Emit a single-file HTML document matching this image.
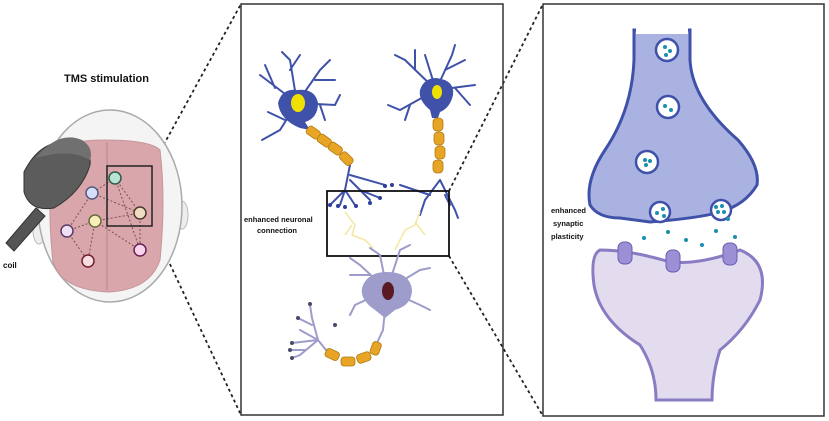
<!DOCTYPE html>
<html><head><meta charset="utf-8"><style>
html,body{margin:0;padding:0;background:#fff;}
svg{display:block;}
text{font-family:"Liberation Sans",sans-serif;font-weight:bold;fill:#111;}
</style></head><body>
<svg width="829" height="421" viewBox="0 0 829 421" xmlns="http://www.w3.org/2000/svg">
<g stroke="#222" stroke-width="1.8" stroke-dasharray="3,3" fill="none">
<line x1="152" y1="166" x2="241" y2="4"/>
<line x1="152" y1="226" x2="241" y2="415"/>
<line x1="449" y1="191" x2="543" y2="4"/>
<line x1="449" y1="256" x2="543" y2="416"/>
</g>
<rect x="241" y="4" width="262" height="411" fill="none" stroke="#333" stroke-width="1.5"/>
<rect x="543" y="4" width="281" height="412" fill="none" stroke="#333" stroke-width="1.5"/>

<text x="64" y="82" font-size="11">TMS stimulation</text>
<text x="3" y="268" font-size="8">coil</text>
<path d="M100 115 Q110 108 118 115 L120 122 Z" fill="#f2f2f2" stroke="#bbb"/>
<ellipse cx="39" cy="230" rx="6" ry="14" fill="#eee" stroke="#bbb"/>
<ellipse cx="182" cy="215" rx="6" ry="14" fill="#eee" stroke="#bbb"/>
<ellipse cx="110" cy="206" rx="72" ry="96" fill="#f4f4f4" stroke="#aaa" stroke-width="1.5"/>
<path d="M55 150 Q70 140 105 140 Q150 140 160 150 Q166 200 160 260 Q150 290 108 292 Q62 290 53 262 Q46 200 55 150 Z" fill="#d9a7ab" stroke="#c4969a"/>
<line x1="107" y1="142" x2="107" y2="290" stroke="#b58589" stroke-width="1"/>
<g stroke="#7b5050" stroke-width="1" stroke-dasharray="2,2" fill="none">
<line x1="115" y1="178" x2="92" y2="193"/><line x1="115" y1="178" x2="140" y2="213"/><line x1="115" y1="178" x2="140" y2="250"/>
<line x1="92" y1="193" x2="67" y2="231"/><line x1="92" y1="193" x2="140" y2="213"/>
<line x1="95" y1="221" x2="67" y2="231"/><line x1="95" y1="221" x2="88" y2="261"/><line x1="95" y1="221" x2="140" y2="213"/><line x1="95" y1="221" x2="140" y2="250"/>
<line x1="67" y1="231" x2="88" y2="261"/><line x1="140" y1="213" x2="140" y2="250"/>
</g>
<circle cx="115" cy="178" r="6" fill="#b9e3d5" stroke="#2d5b4a" stroke-width="1.5"/>
<circle cx="92" cy="193" r="6" fill="#d7defa" stroke="#555a80" stroke-width="1.5"/>
<circle cx="140" cy="213" r="6" fill="#efdcc2" stroke="#4a3a2a" stroke-width="1.5"/>
<circle cx="95" cy="221" r="6" fill="#f5f0b8" stroke="#6a6a40" stroke-width="1.5"/>
<circle cx="67" cy="231" r="6" fill="#efe0f5" stroke="#5a3a6a" stroke-width="1.5"/>
<circle cx="88" cy="261" r="6" fill="#f5dde0" stroke="#702030" stroke-width="1.5"/>
<circle cx="140" cy="250" r="6" fill="#f8d5ec" stroke="#6a2050" stroke-width="1.5"/>
<rect x="107" y="166" width="45" height="60" fill="none" stroke="#222" stroke-width="1.5"/>
<path d="M6 243 L36 208 L45 216 L14 251 Z" fill="#555" stroke="#333"/>
<path d="M24 172 Q40 140 68 142 Q92 148 90 165 Q82 192 54 208 Q30 212 24 192 Z" fill="#5c5c5c" stroke="#333"/>
<path d="M36 158 Q58 130 82 140 Q94 148 90 160 Q70 148 36 158 Z" fill="#707070"/>

<g stroke="#3f51a8" stroke-width="2" fill="none" stroke-linecap="round">
<path d="M297 103 L260 75 M275 88 L265 65 M297 103 L280 130 L262 140 M285 120 L268 112 M297 103 L320 70 L330 60 M315 80 L335 80 M297 103 L335 105 L340 95 M320 105 L325 120 M297 103 L290 60 L282 52 M290 70 L300 55"/>
<path d="M436 90 L405 60 L395 55 M415 70 L415 50 M436 90 L452 55 L455 45 M445 70 L465 60 M436 90 L475 85 M455 88 L470 105 M436 90 L400 110 L388 105 M410 105 L405 120 M436 90 L425 55"/>
<path d="M350 165 L345 190 L330 205 M345 190 L340 205 M345 190 L355 205 M350 180 L370 200 M360 190 L380 198 M350 175 L385 185"/>
<path d="M440 180 L425 200 L420 215 M430 195 L400 185 M440 180 L455 210 L458 218 M445 195 L450 205"/>
</g>
<path d="M297 90 Q315 88 318 103 Q318 118 305 122 L310 130 L300 128 Q280 120 278 103 Q282 88 297 90 Z" fill="#3f51a8"/>
<ellipse cx="298" cy="103" rx="7" ry="9" fill="#f0e000"/>
<path d="M436 78 Q455 80 453 95 Q450 108 440 112 L438 118 L432 118 L430 110 Q418 100 420 90 Q424 78 436 78 Z" fill="#3f51a8"/>
<ellipse cx="437" cy="92" rx="5" ry="7" fill="#f0e000"/>
<g fill="#e8a425" stroke="#b07a10" stroke-width="0.8">
<rect x="306" y="128" width="14" height="9" rx="3" transform="rotate(35 313 133)"/>
<rect x="317" y="136" width="14" height="9" rx="3" transform="rotate(35 324 141)"/>
<rect x="328" y="144" width="14" height="9" rx="3" transform="rotate(35 335 149)"/>
<rect x="339" y="154" width="14" height="9" rx="3" transform="rotate(45 346 159)"/>
<rect x="433" y="118" width="10" height="13" rx="4"/>
<rect x="434" y="132" width="10" height="13" rx="4"/>
<rect x="435" y="146" width="10" height="13" rx="4"/>
<rect x="433" y="160" width="10" height="13" rx="4"/>
</g>
<g fill="#2d3f9a">
<circle cx="330" cy="205" r="2"/><circle cx="338" cy="206" r="2"/><circle cx="345" cy="207" r="2"/><circle cx="356" cy="206" r="2"/><circle cx="370" cy="203" r="2"/><circle cx="380" cy="198" r="2"/><circle cx="385" cy="186" r="2"/><circle cx="392" cy="185" r="2"/>
</g>
<g stroke="#f3e7a0" stroke-width="1.5" fill="none">
<path d="M345 212 L355 225 L352 235 L365 240 L373 248 M352 225 L345 235"/>
<path d="M420 212 L415 225 L405 230 L400 240 L395 250 M415 222 L425 235"/>
</g>
<rect x="327" y="191" width="122" height="65" fill="none" stroke="#111" stroke-width="1.8"/>
<text x="244" y="222" font-size="7.5">enhanced neuronal</text>
<text x="257" y="233" font-size="7.5">connection</text>
<g stroke="#9d9ccb" stroke-width="2" fill="none" stroke-linecap="round">
<path d="M387 290 L360 265 L350 258 M370 275 L350 275 M387 290 L380 255 L370 248 M387 290 L400 250 L410 245 M387 290 L420 270 L430 268 M387 290 L420 305 L430 310 M387 290 L355 305 L350 315 M385 310 L383 330 L376 345"/>
<path d="M330 355 L318 340 L300 330 M318 340 L312 318 L310 305 M312 325 L298 318 M318 340 L292 343 M318 340 L300 355 L292 358 M305 350 L290 350"/>
</g>
<path d="M387 272 Q410 272 412 290 Q412 305 395 310 L385 318 L375 310 Q360 300 362 288 Q367 272 387 272 Z" fill="#9d9ccb"/>
<ellipse cx="388" cy="291" rx="6" ry="9" fill="#5a1a24"/>
<g fill="#4a4a70"><circle cx="310" cy="304" r="2"/><circle cx="298" cy="318" r="2"/><circle cx="292" cy="343" r="2"/><circle cx="290" cy="350" r="2"/><circle cx="292" cy="358" r="2"/><circle cx="335" cy="325" r="2"/></g>
<g fill="#e8a425" stroke="#b07a10" stroke-width="0.8">
<rect x="325" y="350" width="14" height="9" rx="3" transform="rotate(25 332 355)"/>
<rect x="341" y="357" width="14" height="9" rx="3"/>
<rect x="357" y="353" width="14" height="9" rx="3" transform="rotate(-20 364 358)"/>
<rect x="371" y="342" width="9" height="13" rx="3" transform="rotate(20 376 349)"/>
</g>

<path d="M634 30 L634 60 Q632 110 605 150 Q585 180 590 205 Q598 218 620 218 L650 222 Q700 218 720 212 Q745 205 757 185 Q760 165 738 140 Q692 100 690 60 L690 30 Z" fill="#a9b2e0" stroke="#3f51a8" stroke-width="3"/>
<rect x="636" y="26" width="52" height="8" fill="#fff"/>
<g fill="#fff" stroke="#3f51a8" stroke-width="2.5">
<circle cx="667" cy="50" r="11"/><circle cx="668" cy="107" r="11"/><circle cx="647" cy="162" r="11"/>
<circle cx="660" cy="212" r="10"/><circle cx="721" cy="210" r="10"/>
</g>
<g fill="#1a8fb0">
<circle cx="665" cy="47" r="2"/><circle cx="670" cy="51" r="2"/><circle cx="666" cy="55" r="2"/>
<circle cx="665" cy="106" r="2"/><circle cx="671" cy="110" r="2"/>
<circle cx="645" cy="160" r="2"/><circle cx="650" cy="161" r="2"/><circle cx="646" cy="165" r="2"/>
<circle cx="657" cy="213" r="2"/><circle cx="663" cy="209" r="2"/><circle cx="664" cy="216" r="2"/>
<circle cx="716" cy="207" r="2"/><circle cx="722" cy="206" r="2"/><circle cx="718" cy="212" r="2"/><circle cx="724" cy="212" r="2"/><circle cx="728" cy="219" r="2"/>
<circle cx="644" cy="238" r="2"/><circle cx="668" cy="232" r="2"/><circle cx="686" cy="240" r="2"/><circle cx="702" cy="245" r="2"/><circle cx="716" cy="231" r="2"/><circle cx="735" cy="237" r="2"/>
</g>
<path d="M600 250 Q630 250 670 262 Q700 265 740 250 Q770 262 760 300 Q745 330 720 350 Q712 375 712 400 L656 400 Q656 370 640 345 Q600 320 594 285 Q590 255 600 250 Z" fill="#e3dcef" stroke="#8a7cc3" stroke-width="3"/>
<g fill="#9d8fd6" stroke="#6a5cb0" stroke-width="1">
<rect x="618" y="242" width="14" height="22" rx="6"/>
<rect x="666" y="250" width="14" height="22" rx="6"/>
<rect x="723" y="243" width="14" height="22" rx="6"/>
</g>
<text x="551" y="213" font-size="7.5">enhanced</text>
<text x="553" y="226" font-size="7.5">synaptic</text>
<text x="551" y="239" font-size="7.5">plasticity</text>
</svg>
</body></html>
